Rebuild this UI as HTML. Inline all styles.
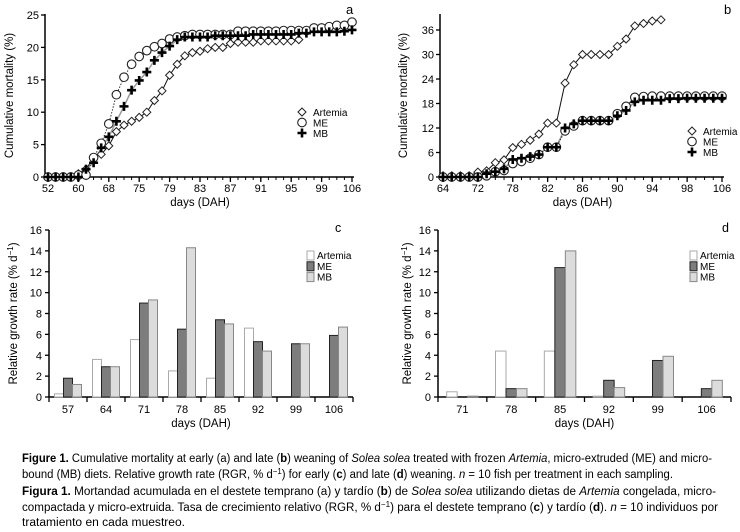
<!DOCTYPE html>
<html><head><meta charset="utf-8"><style>
body{margin:0;background:#fff}
svg{display:block;font-family:"Liberation Sans",sans-serif}
</style></head><body>
<svg id="fig" width="740" height="532" viewBox="0 0 740 532"></svg>
<script>
// Panel a data (sampling index)
const aTicks=["52","60","68","75","79","83","87","91","95","99","106"];
const aArtemia=[0,0,0,0,0.5,1.2,3,3.5,4.8,7,8,8.6,9.2,10,11.8,13.3,15.7,17.4,18.7,19.2,19.4,19.8,20,20,20.6,20.8,20.8,20.8,21,21,21,21,21,21.2];
const aME=[0,0,0,0,0.3,0.3,3,5.2,8.2,12.7,15.4,17.4,18.6,19.5,20.1,20.6,21.3,21.6,21.8,22,22,22,22,22,22,22.5,22.5,22.5,22.5,22.5,22.5,22.6,22.6,22.6,22.6,23,23,23.2,23.4,23.4,23.9];
const aMB=[0,0,0,0,0,1.2,2.2,4.5,6.2,8.6,10.9,13.4,14.9,16.2,18,19.2,20.2,21.2,21.6,21.6,21.6,21.6,21.8,21.8,21.8,21.8,21.8,22,22,22,22,22,22,22.2,22.2,22.4,22.4,22.4,22.4,22.5,22.7];
// Panel b data
const bTicks=["64","72","78","82","86","90","94","98","106"];
const bArtemia=[0.3,0.3,0.3,0.3,1.2,1.5,3.5,4.2,7.2,8,9,10.5,13.2,13.2,23,27.5,30,30,30,30,32,33.8,37,37.6,38.2,38.5];
const bME=[0,0,0,0,0,0.3,1.3,1.6,3.3,3.8,4.6,5.5,7.3,7.3,11.3,12.5,13.8,13.8,13.8,13.8,15.5,17.3,19.5,19.7,19.8,19.8,19.8,19.8,19.8,19.8,19.8,19.8,19.8];
const bMB=[0,0,0,0,0,0.8,1.3,2,4.3,4.6,5,5.5,7.3,7.3,12,13,13.8,13.8,13.8,13.8,15,16.3,18.4,18.8,18.8,18.8,19.2,19.2,19.3,19.3,19.3,19.3,19.3];
// Panel c data
const cDays=["57","64","71","78","85","92","99","106"];
const cArtemia=[0.3,3.6,5.5,2.5,1.8,6.6,0,0];
const cME=[1.8,2.9,9,6.5,7.4,5.3,5.1,5.9];
const cMB=[1.2,2.9,9.3,14.3,7,4.4,5.1,6.7];
// Panel d data
const dDays=["71","78","85","92","99","106"];
const dArtemia=[0.5,4.4,4.4,0.08,0,0];
const dME=[0,0.8,12.4,1.6,3.5,0.8];
const dMB=[0.08,0.8,14,0.9,3.9,1.6];

const NS="http://www.w3.org/2000/svg";
const svg=document.getElementById('fig');
function el(tag,attrs,parent,txt){const e=document.createElementNS(NS,tag);for(const k in attrs)e.setAttribute(k,attrs[k]);if(txt!=null)e.textContent=txt;(parent||svg).appendChild(e);return e;}

function marker(g,type,x,y){
  let m;
  if(type==='d'){m=el('path',{d:`M${x} ${y-4}L${x+4} ${y}L${x} ${y+4}L${x-4} ${y}Z`,fill:'#fff',stroke:'#222','stroke-width':1},g);}
  else if(type==='o'){m=el('circle',{cx:x,cy:y,r:4.3,fill:'#fff',stroke:'#222','stroke-width':1.1},g);}
  else{m=el('path',{d:`M${x-4.5} ${y}H${x+4.5}M${x} ${y-4.5}V${y+4.5}`,stroke:'#000','stroke-width':2.6},g);}
  return m;
}

function linePanel(o){
  const g=el('g',{});
  
  
  const X=i=>o.x0+(o.x1-o.x0)*i/o.n;
  const Y=v=>o.y0-(o.y0-o.yTop)*v/o.vmax;
  el('line',{x1:o.x0,y1:o.y0,x2:o.x1+2,y2:o.y0,stroke:'#000','stroke-width':1.5},g);
  el('line',{x1:o.x0-3,y1:o.y0,x2:o.x0-3,y2:o.axTop,stroke:'#000','stroke-width':1.5},g);
  o.yt.forEach(v=>{el('line',{x1:o.x0-7,x2:o.x0-3,y1:Y(v),y2:Y(v),stroke:'#000','stroke-width':1.3},g);
    const t=el('text',{x:o.x0-9,y:Y(v)+4,'font-size':11,'text-anchor':'end'},g,String(v));
    });
  for(let i=0;i<=o.n;i++){el('line',{x1:X(i),x2:X(i),y1:o.y0,y2:o.y0+3,stroke:'#000','stroke-width':1},g);}
  const step=o.n/(o.ticks.length-1);
  o.ticks.forEach((t,k)=>{el('line',{x1:X(k*step),x2:X(k*step),y1:o.y0,y2:o.y0+5,stroke:'#000','stroke-width':1.3},g);
    const tt=el('text',{x:X(k*step),y:o.y0+15,'font-size':11,'text-anchor':'middle'},g,t);
    });
  const xt=el('text',{x:(o.x0+o.x1)/2,y:o.y0+29,'font-size':11.5,'text-anchor':'middle'},g,'days (DAH)');
  
  const cy=(o.y0+o.axTop)/2;
  const yt=el('text',{x:o.ytx,y:cy,'font-size':11.5,'text-anchor':'middle',transform:`rotate(-90 ${o.ytx} ${cy})`},g,'Cumulative mortality (%)');
  
  const lb=el('text',{x:o.lx,y:o.ly,'font-size':13},g,o.label);
  
  const series=[[o.mb,'p','#999','none',1.5,'series-mb'],[o.me,'o','#333','1.5 1.5',1,'series-me'],[o.art,'d','#111','none',1,'series-artemia']];
  series.forEach(([d,t,c,dash,w,nm])=>{
    const sg=el('g',{},g);
    const p=el('polyline',{points:d.map((v,i)=>X(i)+','+Y(v)).join(' '),fill:'none',stroke:c,'stroke-width':w,'stroke-dasharray':dash},sg);
    
  });
  [[o.art,'d','series-artemia'],[o.me,'o','series-me'],[o.mb,'p','series-mb']].forEach(([d,t,nm])=>{
    d.forEach((v,i)=>{const m=marker(g,t,X(i),Y(v));});
  });
  const leg=el('g',{},g);
  [['d','Artemia'],['o','ME'],['p','MB']].forEach(([t,n],k)=>{
    const yy=o.legY+k*10.5;
    const m=marker(leg,t,o.legX,yy);
    const tx=el('text',{x:o.legX+11,y:yy+4,'font-size':10},leg,n);
    
  });
}
linePanel({name:'panel-a-chart',x0:48,x1:352,n:40,y0:177,yTop:15,axTop:14,vmax:25,yt:[0,5,10,15,20,25],ticks:aTicks,art:aArtemia,me:aME,mb:aMB,ytx:13,label:'a',lx:346,ly:14,legX:302,legY:112});
linePanel({name:'panel-b-chart',x0:443,x1:722,n:32,y0:177,yTop:30,axTop:14,vmax:36,yt:[0,6,12,18,24,30,36],ticks:bTicks,art:bArtemia,me:bME,mb:bMB,ytx:407,label:'b',lx:724,ly:14,legX:692,legY:131});

function barPanel(o){
  const g=el('g',{});
  
  
  const Y=v=>o.y0-(o.y0-o.yTop)*v/16;
  const gw=(o.x1-o.x0)/o.days.length;
  el('line',{x1:o.x0,y1:o.y0,x2:o.x1,y2:o.y0,stroke:'#000','stroke-width':1.5},g);
  el('line',{x1:o.x0,y1:o.y0,x2:o.x0,y2:o.yTop,stroke:'#000','stroke-width':1.5},g);
  [0,2,4,6,8,10,12,14,16].forEach(v=>{el('line',{x1:o.x0-4,x2:o.x0,y1:Y(v),y2:Y(v),stroke:'#000','stroke-width':1.3},g);
    const t=el('text',{x:o.x0-7,y:Y(v)+4,'font-size':11,'text-anchor':'end'},g,String(v));
    });
  for(let i=0;i<=o.days.length;i++)el('line',{x1:o.x0+i*gw,x2:o.x0+i*gw,y1:o.y0,y2:o.y0+5,stroke:'#000','stroke-width':1.3},g);
  const cols=[['#fff','#aaa','artemia'],['#7d7d7d','#222','me'],['#dcdcdc','#888','mb']];
  const sets=[o.art,o.me,o.mb];
  o.days.forEach((d,i)=>{
    const cx=o.x0+gw*(i+0.5);
    sets.forEach((s,k)=>{const bx=cx-1.5*o.bw+k*o.bw;const r=el('rect',{x:bx,y:Y(s[i]),width:o.bw,height:Math.max(0,o.y0-Y(s[i])),fill:cols[k][0],stroke:cols[k][1],'stroke-width':1},g);
      });
    const t=el('text',{x:cx,y:o.y0+16,'font-size':11,'text-anchor':'middle'},g,d);
    
  });
  const xt=el('text',{x:(o.x0+o.x1)/2,y:o.y0+30,'font-size':11.5,'text-anchor':'middle'},g,'days (DAH)');
  
  const cy=(o.y0+o.yTop)/2;
  const yt=el('text',{x:o.ytx,y:cy,'font-size':11.5,'text-anchor':'middle',transform:`rotate(-90 ${o.ytx} ${cy})`},g);
  
  yt.appendChild(document.createTextNode('Relative growth rate (% d'));
  el('tspan',{dy:-4,'font-size':8},yt,'−1');
  el('tspan',{dy:4},yt,')');
  const lb=el('text',{x:o.lx,y:o.ly,'font-size':12.5},g,o.label);
  
  const leg=el('g',{},g);
  [['Artemia',0],['ME',1],['MB',2]].forEach(([n,k])=>{
    const yy=o.legY+k*10.8;
    el('rect',{x:o.legX,y:yy-4,width:7,height:9,fill:cols[k][0],stroke:cols[k][1]},leg);
    const tx=el('text',{x:o.legX+10,y:yy+4,'font-size':10},leg,n);
    
  });
}
barPanel({name:'panel-c-chart',x0:49,x1:353,y0:397,yTop:230,days:cDays,art:cArtemia,me:cME,mb:cMB,bw:9,ytx:17,label:'c',lx:335,ly:232,legX:307,legY:255});
barPanel({name:'panel-d-chart',x0:438,x1:731,y0:397,yTop:230,days:dDays,art:dArtemia,me:dME,mb:dMB,bw:10.5,ytx:411,label:'d',lx:722,ly:232,legX:690,legY:255});
</script>
<script>
(function(){
const NS="http://www.w3.org/2000/svg";const svg=document.getElementById('fig');
const g=document.createElementNS(NS,'g');svg.appendChild(g);


g.innerHTML=
'<text x="22" y="462" font-size="11.5" textLength="690" lengthAdjust="spacingAndGlyphs"><tspan font-weight="bold">Figure 1.</tspan> Cumulative mortality at early (a) and late (<tspan font-weight="bold">b</tspan>) weaning of <tspan font-style="italic">Solea solea</tspan> treated with frozen <tspan font-style="italic">Artemia</tspan>, micro-extruded (ME) and micro-</text>'+
'<text x="22" y="478" font-size="11.5" textLength="651" lengthAdjust="spacingAndGlyphs">bound (MB) diets. Relative growth rate (RGR, % d<tspan dy="-4" font-size="8">−1</tspan><tspan dy="4">) for early (</tspan><tspan font-weight="bold">c</tspan>) and late (<tspan font-weight="bold">d</tspan>) weaning. <tspan font-style="italic">n</tspan> = 10 fish per treatment in each sampling.</text>'+
'<text x="22" y="495" font-size="11.5" textLength="694" lengthAdjust="spacingAndGlyphs"><tspan font-weight="bold">Figura 1.</tspan> Mortandad acumulada en el destete temprano (a) y tardío (<tspan font-weight="bold">b</tspan>) de <tspan font-style="italic">Solea solea</tspan> utilizando dietas de <tspan font-style="italic">Artemia</tspan> congelada, micro-</text>'+
'<text x="22" y="511" font-size="11.5" textLength="696" lengthAdjust="spacingAndGlyphs">compactada y micro-extruida. Tasa de crecimiento relativo (RGR, % d<tspan dy="-4" font-size="8">−1</tspan><tspan dy="4">) para el destete temprano (</tspan><tspan font-weight="bold">c</tspan>) y tardío (<tspan font-weight="bold">d</tspan>). <tspan font-style="italic">n</tspan> = 10 individuos por</text>'+
'<text x="22" y="526" font-size="11.5" textLength="163" lengthAdjust="spacingAndGlyphs">tratamiento en cada muestreo.</text>';
})();
</script>
</body></html>
